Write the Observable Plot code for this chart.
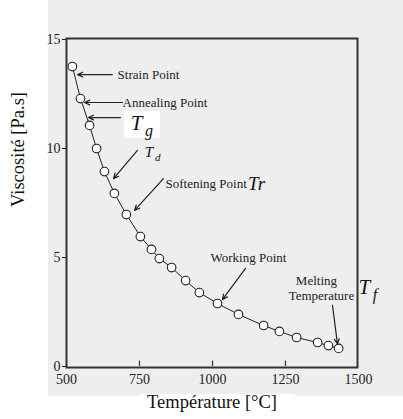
<!DOCTYPE html>
<html>
<head>
<meta charset="utf-8">
<script src="https://cdn.jsdelivr.net/npm/d3@7"></script>
<script src="https://cdn.jsdelivr.net/npm/@observablehq/plot@0.6"></script>
<style>
  html, body { margin: 0; padding: 0; background: #fff; }
  #wrap { position: relative; width: 403px; height: 419px; overflow: hidden; }
  .bg { position: absolute; }
  #chart { position: absolute; left: 0; top: 0; }
  #chart svg { background: transparent !important; }
</style>
</head>
<body>
<div id="wrap">
  <div class="bg" style="left:48px;top:0;width:355px;height:396px;background:#eeeeee;"></div>
  <div class="bg" style="left:140px;top:394px;width:155px;height:25px;background:#fff;"></div>
  <div class="bg" style="left:124px;top:111px;width:36px;height:27px;background:#fff;"></div>
  <div id="chart"></div>
</div>
<script>
// Data (temperature °C, log viscosity)
const temperature = [520, 548, 579, 603, 630, 664, 705, 753, 791, 818, 860, 908, 955, 1017, 1089, 1175, 1229, 1288, 1360, 1397, 1432];
const viscosity   = [13.76, 12.29, 11.06, 10.0, 8.94, 7.94, 6.97, 5.96, 5.37, 4.95, 4.54, 3.94, 3.39, 2.89, 2.39, 1.88, 1.61, 1.33, 1.10, 0.96, 0.83];

const xTicks = [500, 750, 1000, 1250, 1500];
const yTicks = [0, 5, 10, 15];
const innerXTicks = [750, 1000, 1250];

// Annotation labels and their anchors (data coordinates)
const labelText = ["Strain Point", "Annealing Point", "Softening Point", "Working Point", "Melting", "Temperature"];
const labelX    = [675, 692, 839, 1123, 1356, 1373];
const labelY    = [13.39, 12.11, 8.39, 5.0, 3.94, 3.26];
const labelAnchor = ["start", "start", "start", "middle", "middle", "middle"];

const arrowX1 = [657, 692, 685, 743, 832, 1113, 1411];
const arrowY1 = [13.39, 12.11, 11.42, 9.91, 8.62, 4.5, 2.80];
const arrowX2 = [538, 562, 575, 661, 733, 1034, 1428];
const arrowY2 = [13.39, 12.11, 11.42, 8.62, 7.16, 3.07, 1.03];

// Symbol labels (italic T with subscripts)
const symMain  = ["T", "T", "Tr", "T"];
const symSub   = ["g", "d", "", "f"];
const symX     = [720, 768, 1122, 1500];
const symY     = [11.15, 9.85, 8.39, 3.62];
const symSize  = [21, 15, 19, 21];
const symSubSize = [16, 11, 0, 16];

const points = temperature.map((t, i) => ({t, v: viscosity[i]}));
const labels = labelText.map((s, i) => ({s, x: labelX[i], y: labelY[i], a: labelAnchor[i]}));
const arrows = arrowX1.map((x1, i) => ({x1, y1: arrowY1[i], x2: arrowX2[i], y2: arrowY2[i]}));

const font = "'Liberation Serif', 'Times New Roman', serif";

const symMarks = [];
symMain.forEach((s, i) => {
  const size = symSize[i];
  symMarks.push(Plot.text([{s, x: symX[i], y: symY[i]}], {x: "x", y: "y", text: "s", textAnchor: "start", fontSize: size, fontStyle: "italic", fill: "#111"}));
  if (symSub[i]) {
    symMarks.push(Plot.text([{s: symSub[i], x: symX[i], y: symY[i]}], {x: "x", y: "y", text: "s", textAnchor: "start", fontSize: symSubSize[i], fontStyle: "italic", fill: "#111", dx: size * 0.68, dy: size * 0.36}));
  }
});

const marks = [
  Plot.frame({stroke: "#333", strokeWidth: 2}),
  Plot.ruleX(innerXTicks, {y1: 0, y2: 0.25, stroke: "#333", strokeWidth: 1.2}),
  Plot.axisX({ticks: xTicks, tickSize: 0, tickPadding: 7, fontSize: 14, label: null, tickFormat: d => String(d)}),
  Plot.axisY({ticks: yTicks, tickSize: 4, tickPadding: 2, fontSize: 14, label: null, tickFormat: d => String(d)}),
  Plot.line(points, {x: "t", y: "v", stroke: "#222", strokeWidth: 1}),
  Plot.dot(points, {x: "t", y: "v", r: 4.3, fill: "#fff", stroke: "#222", strokeWidth: 1.1}),
  Plot.arrow(arrows, {x1: "x1", y1: "y1", x2: "x2", y2: "y2", stroke: "#222", strokeWidth: 1.2, headLength: 7, headAngle: 50}),
  Plot.text(labels.filter(d => d.a === "start"), {x: "x", y: "y", text: "s", textAnchor: "start", fontSize: 13, fill: "#222"}),
  Plot.text(labels.filter(d => d.a === "middle"), {x: "x", y: "y", text: "s", textAnchor: "middle", fontSize: 13, fill: "#222"}),
  ...symMarks,
  Plot.text(["Viscosité [Pa.s]"], {frameAnchor: "left", dx: -48, dy: 4, rotate: -90, fontSize: 18.5, fill: "#111"}),
  Plot.text(["Température [°C]"], {frameAnchor: "bottom", dy: 40, fontSize: 18.5, fill: "#111"})
];

const chart = Plot.plot({
  width: 403,
  height: 419,
  marginLeft: 66,
  marginRight: 46,
  marginTop: 38,
  marginBottom: 52,
  x: {domain: [500, 1500], range: [66, 358]},
  y: {domain: [0, 15], range: [366, 39]},
  style: {fontFamily: font, background: "transparent", color: "#222", overflow: "visible"},
  marks
});
document.getElementById("chart").appendChild(chart);
</script>
</body>
</html>
